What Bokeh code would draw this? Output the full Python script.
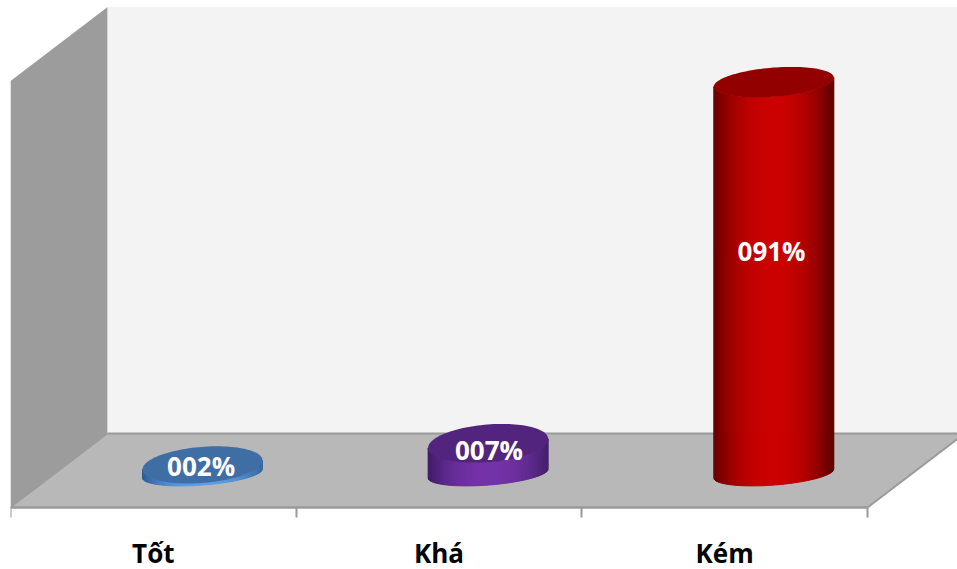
import numpy as np
from bokeh.core.properties import value
from bokeh.embed import file_html
from bokeh.models import ColumnDataSource, FixedTicker, Range1d
from bokeh.plotting import figure
from bokeh.resources import INLINE

# Chart values
categories = ["Tốt", "Khá", "Kém"]
percent = [2, 7, 91]
labels = ["002%", "007%", "091%"]

# Column colours: stops of the shaded side (edge, centre, edge) and the flat top
side_stops = [
    ["#2c5c96", "#5f9fe8", "#35689f"],
    ["#3f1c66", "#7533a8", "#44206c"],
    ["#640000", "#cb0000", "#5c0000"],
]
top_colors = ["#3f6ea5", "#52247e", "#920000"]
label_lift = [0.65, 1.85, 6.25]
label_shift = [-0.005, 0.003, -0.008]
top_minor = [4.2, 4.4, 3.4]

# Pseudo-3D geometry, in data units
WALL_TOP = 99.2
DEPTH_X, DEPTH_Y = 0.34, 17.2
BAR_DEPTH = 0.46
BAR_SHIFT = 0.172
RADIUS = 0.21
SKEW = 0.075 * 285.67 / 4.3
BASE_B = 2.7

PX_X, PX_Y = 285.67, 4.3

# The frame runs to the page's lower edge; the axis sits inside it at value 0
p = figure(
    width=957, height=569, output_backend="svg", toolbar_location=None,
    x_range=Range1d(0, 947 / PX_X), y_range=Range1d(-62 / PX_Y, 507 / PX_Y),
    min_border_left=10, min_border_right=0, min_border_top=0, min_border_bottom=0,
    background_fill_color="white", border_fill_color="white",
)
p.outline_line_color = None
p.grid.visible = False
p.yaxis.visible = False


def depth(c, v, d):
    return c + d * DEPTH_X, v + d * DEPTH_Y


# Chart box: side wall, back wall, floor
corners = {
    "side": ([(0, 0, 0), (0, 0, 1), (0, WALL_TOP, 1), (0, WALL_TOP, 0)], "#9c9c9c"),
    "back": ([(0, 0, 1), (3, 0, 1), (3, WALL_TOP, 1), (0, WALL_TOP, 1)], "#f3f3f3"),
    "floor": ([(0, 0, 0), (3, 0, 0), (3, 0, 1), (0, 0, 1)], "#b8b8b8"),
}
for pts, color in corners.values():
    xy = [depth(*q) for q in pts]
    p.patch([a for a, _ in xy], [b for _, b in xy], fill_color=color, line_color=None)

# Floor edges
for a, b, w in [((0, 0, 0), (0, 0, 1), 1.2), ((3, 0, 0), (3, 0, 1), 2), ((0, 0, 1), (3, 0, 1), 2)]:
    pa, pb = depth(*a), depth(*b)
    p.line([pa[0], pb[0]], [pa[1], pb[1]], line_color="#9a9a9a", line_width=w)


def mix(stops, t):
    rgb = [np.array([int(s[i:i + 2], 16) for i in (1, 3, 5)], float) for s in stops]
    u = abs(2 * t - 1) ** 2.2
    c = (rgb[0] if t < 0.5 else rgb[2]) * u + rgb[1] * (1 - u)
    return "#%02x%02x%02x" % tuple(int(round(x)) for x in c)


# Columns: shaded strips down the side, then a flat elliptical top
STRIPS = 120
for i, v in enumerate(percent):
    cx = i + 0.5 + BAR_SHIFT
    base = BAR_DEPTH * DEPTH_Y
    top = base + v
    b_top = top_minor[i]

    xs, ys, fills = [], [], []
    edges = np.linspace(-1, 1, STRIPS + 1)
    for k in range(STRIPS):
        u = np.linspace(edges[k], edges[k + 1], 4)
        s = np.sqrt(np.clip(1 - u ** 2, 0, 1))
        x = cx + RADIUS * u
        upper = top - b_top * s + SKEW * RADIUS * u
        lower = base - BASE_B * s + SKEW * RADIUS * u
        xs.append(np.r_[x, x[::-1]])
        ys.append(np.r_[upper, lower[::-1]])
        fills.append(mix(side_stops[i], (k + 0.5) / STRIPS))
    p.patches(xs, ys, fill_color=fills, line_color=fills, line_width=1)

    t = np.linspace(0, 2 * np.pi, 120)
    p.patch(cx + RADIUS * np.cos(t),
            top + b_top * np.sin(t) + SKEW * RADIUS * np.cos(t),
            fill_color=top_colors[i], line_color=None)

# Value labels on the columns
label_src = ColumnDataSource(dict(
    x=[i + 0.5 + BAR_SHIFT + s for i, s in enumerate(label_shift)],
    y=[BAR_DEPTH * DEPTH_Y + v / 2 + lift for v, lift in zip(percent, label_lift)],
    text=labels,
))
p.text("x", "y", text="text", source=label_src, text_color="white",
       text_font=value("Open Sans"), text_font_style="bold", text_font_size="26px",
       text_align="center", text_baseline="middle")

# Category axis: names centred between boundary ticks
axis = p.xaxis[0]
axis.fixed_location = 0
axis.bounds = (0, 3)
axis.ticker = FixedTicker(ticks=[0.5, 1.5, 2.5], minor_ticks=[0, 1, 2, 3])
axis.major_label_overrides = {i + 0.5: c for i, c in enumerate(categories)}
axis.major_tick_line_color = None
axis.major_tick_in = 0
axis.major_tick_out = 0
axis.minor_tick_in = 0
axis.minor_tick_out = 10
axis.minor_tick_line_color = "#9a9a9a"
axis.minor_tick_line_width = 2
axis.axis_line_color = "#9a9a9a"
axis.axis_line_width = 2.5
axis.major_label_standoff = 17
axis.major_label_text_font = "Open Sans"
axis.major_label_text_font_style = "bold"
axis.major_label_text_font_size = "26px"
axis.major_label_text_color = "black"

open("out.html", "w").write(file_html(p, INLINE))
